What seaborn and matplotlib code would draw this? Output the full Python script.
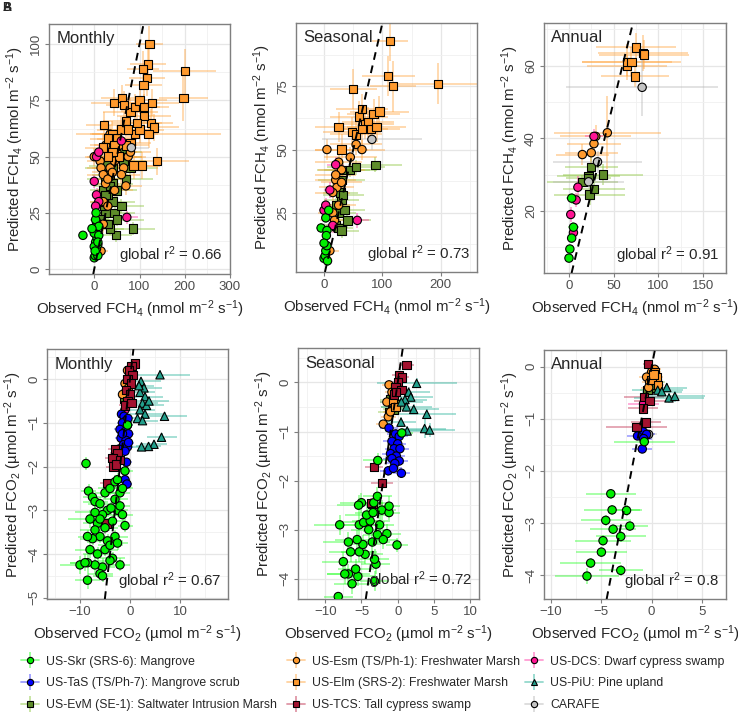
import numpy as np
import pandas as pd
import matplotlib
matplotlib.use("Agg")
import matplotlib.pyplot as plt
import seaborn as sns
from matplotlib.lines import Line2D
from matplotlib.legend_handler import HandlerTuple
from matplotlib.ticker import AutoMinorLocator

# ---- sites: label, fill colour, marker ----
site_labels = {
    "Skr": "US-Skr (SRS-6): Mangrove",
    "TaS": "US-TaS (TS/Ph-7): Mangrove scrub",
    "EvM": "US-EvM (SE-1): Saltwater Intrusion Marsh",
    "Esm": "US-Esm (TS/Ph-1): Freshwater Marsh",
    "Elm": "US-Elm (SRS-2): Freshwater Marsh",
    "TCS": "US-TCS: Tall cypress swamp",
    "DCS": "US-DCS: Dwarf cypress swamp",
    "PiU": "US-PiU: Pine upland",
    "CARAFE": "CARAFE",
}
site_colors = {"Skr": "#00F000", "TaS": "#0000FF", "EvM": "#5E8C2A", "Esm": "#FF9A2E",
               "Elm": "#FF9A2E", "TCS": "#A3122F", "DCS": "#FF1493", "PiU": "#22A08C",
               "CARAFE": "#C4C4C4"}
bar_colors = {"Skr": "#2CFF2C", "TaS": "#3A3AFF", "EvM": "#8CC63F", "Esm": "#FFA540",
              "Elm": "#FFA540", "TCS": "#C0304F", "DCS": "#FF3CA8", "PiU": "#2BB39B",
              "CARAFE": "#B8B8B8"}
site_markers = {"Skr": "o", "TaS": "o", "EvM": "s", "Esm": "o", "Elm": "s",
                "TCS": "s", "DCS": "o", "PiU": "^", "CARAFE": "o"}
draw_order = ["EvM", "Esm", "Elm", "CARAFE", "DCS", "TaS", "TCS", "PiU", "Skr"]

# ---- data: (observed, predicted, x error, y error) ----
ch4_monthly = {
    "Skr": [(-25, 15, 6, 2), (0, 5, 5, 2), (2, 6, 6, 2), (5, 9, 8, 2), (8, 6, 6, 2), (3, 12, 5, 2),
            (6, 14, 10, 2), (0, 16, 6, 2), (5, 19, 8, 2), (3, 22, 5, 2), (10, 19, 8, 2), (8, 11, 6, 2),
            (-5, 18, 7, 2), (0, 10, 5, 2), (10, 15, 8, 2), (4, 25, 6, 2), (2, 8, 6, 2), (8, 12, 10, 2)],
    "DCS": [(0, 39, 8, 3), (5, 33, 8, 3), (10, 30, 10, 3), (3, 28, 8, 3), (72, 23, 25, 3),
            (5, 50, 10, 3), (10, 52, 10, 3), (60, 57, 20, 3), (5, 21, 8, 3)],
    "EvM": [(20, 20, 25, 3), (25, 25, 30, 3), (30, 30, 20, 3), (20, 35, 30, 3), (25, 40, 40, 3),
            (30, 45, 50, 3), (35, 42, 40, 3), (40, 38, 45, 3), (40, 30, 50, 3), (45, 25, 45, 3),
            (48, 15, 35, 3), (50, 22, 60, 3), (60, 28, 50, 3), (70, 40, 60, 3), (80, 45, 60, 3),
            (85, 18, 50, 3), (15, 22, 20, 3), (22, 28, 25, 3), (30, 33, 30, 3), (35, 37, 35, 3),
            (28, 46, 40, 3), (55, 50, 50, 3), (45, 50, 40, 3), (35, 18, 30, 3), (18, 30, 20, 3),
            (30, 20, 30, 3), (65, 48, 50, 3), (50, 35, 45, 3), (40, 45, 40, 3), (60, 52, 45, 3),
            (25, 33, 30, 3)],
    "Esm": [(0, 50, 20, 4), (13, 48, 30, 4), (15, 45, 30, 4), (20, 42, 35, 4), (25, 38, 30, 4),
            (30, 40, 40, 4), (35, 45, 40, 4), (40, 43, 45, 4), (45, 48, 40, 4), (50, 52, 45, 4),
            (55, 55, 40, 4), (60, 50, 45, 4), (65, 45, 40, 4), (70, 37, 35, 4), (75, 50, 40, 4),
            (80, 52, 45, 4), (20, 30, 30, 4), (30, 28, 35, 4), (15, 8, 15, 3), (25, 55, 35, 4),
            (35, 60, 40, 4), (60, 42, 40, 4), (45, 35, 40, 4), (20, 20, 25, 4)],
    "Elm": [(21, 64, 40, 6), (40, 60, 50, 6), (50, 58, 45, 6), (60, 62, 55, 6), (70, 66, 50, 6),
            (80, 70, 60, 6), (90, 72, 55, 6), (100, 75, 60, 6), (110, 72, 55, 6), (128, 74, 60, 6),
            (125, 65, 50, 6), (132, 63, 55, 6), (61, 76, 45, 6), (66, 73, 40, 6), (90, 60, 50, 6),
            (100, 62, 55, 6), (110, 68, 60, 6), (122, 100, 30, 8), (119, 91, 40, 8), (108, 89, 35, 8),
            (116, 85, 40, 8), (109, 82, 40, 8), (200, 88, 70, 10), (197, 76, 55, 10), (139, 48, 70, 6),
            (106, 46, 40, 6), (87, 46, 50, 6), (80, 56, 45, 6), (43, 74, 50, 6), (30, 58, 40, 6),
            (45, 55, 45, 6), (70, 55, 50, 6), (95, 65, 55, 6), (75, 62, 50, 6), (55, 50, 40, 6),
            (40, 52, 40, 6), (20, 54, 40, 6), (30, 50, 45, 6), (120, 60, 160, 6)],
    "CARAFE": [(82, 54, 40, 4)],
}
ch4_seasonal = {
    "Skr": [(0, 7, 5, 2), (2, 8, 5, 2), (3, 10, 6, 2), (5, 12, 6, 2), (-5, 19, 8, 2), (5, 18, 6, 2),
            (4, 16, 6, 2), (3, 23, 6, 2), (8, 26, 8, 2), (0, 13, 5, 2), (6, 6, 5, 2)],
    "DCS": [(0, 26, 8, 3), (3, 28, 8, 3), (10, 34, 10, 3), (57, 22, 20, 3), (20, 44, 15, 3), (15, 20, 10, 3)],
    "EvM": [(20, 20, 25, 3), (25, 25, 30, 3), (30, 30, 30, 3), (35, 26, 35, 3), (28, 33, 30, 3),
            (33, 32, 35, 3), (30, 38, 40, 3), (33, 42, 45, 3), (40, 22, 40, 3), (45, 42, 45, 3),
            (55, 43, 50, 3), (88, 44, 45, 3), (20, 28, 25, 3), (25, 19, 25, 3), (30, 18, 30, 3)],
    "Esm": [(5, 50, 20, 4), (25, 45, 40, 4), (30, 42, 40, 4), (45, 47, 45, 4), (55, 52, 45, 4),
            (65, 50, 40, 4), (20, 38, 35, 4), (22, 35, 30, 4), (15, 33, 30, 4), (25, 28, 30, 4),
            (20, 40, 35, 4), (10, 10, 15, 3), (30, 37, 35, 4), (15, 25, 25, 4), (18, 22, 25, 4)],
    "Elm": [(25, 59, 40, 6), (30, 50, 45, 6), (48, 57, 50, 6), (55, 56, 45, 6), (60, 63, 50, 6),
            (65, 66, 45, 6), (70, 60, 50, 6), (75, 61, 45, 6), (80, 58, 50, 6), (85, 64, 45, 6),
            (90, 59, 50, 6), (95, 65, 50, 6), (50, 74, 40, 8), (110, 79, 45, 8), (118, 75, 40, 10),
            (195, 76, 75, 8), (113, 93, 30, 8), (65, 58, 45, 6)],
    "CARAFE": [(82, 54, 85, 4)],
}
ch4_annual = {
    "Skr": [(0, 7, 4, 1), (1, 9.5, 4, 1), (3, 12.5, 5, 1), (5, 15.5, 6, 1.5), (3, 23.5, 6, 1.5)],
    "DCS": [(2, 19, 4, 2), (5, 14, 4, 2), (8, 23, 6, 2), (10, 26.5, 6, 3), (28, 40.5, 10, 2)],
    "EvM": [(15, 28, 40, 2), (22, 29.5, 35, 2), (22, 29, 25, 2), (25, 32, 30, 3), (23, 24.5, 40, 3),
            (28, 26, 35, 3), (38, 30, 45, 3)],
    "Esm": [(15, 35.5, 30, 3), (25, 36, 30, 3), (28, 38.5, 30, 3), (30, 40.5, 40, 3), (43, 41.5, 60, 10)],
    "Elm": [(65, 60, 45, 3), (65, 61, 50, 5), (70, 61, 55, 4), (75, 65, 45, 4), (74, 57, 38, 3),
            (83, 63.5, 50, 5), (84, 63, 50, 4)],
    "CARAFE": [(82, 54, 85, 8), (32, 33.5, 50, 3), (22, 28, 40, 2)],
}
co2_monthly = {
    "Skr": [(-8.8, -1.93, 1.0, 0.15), (-8.3, -2.56, 1.5, 0.15), (-7.5, -2.7, 2.0, 0.15),
            (-7, -2.8, 2.5, 0.15), (-6, -2.85, 2.5, 0.15), (-5, -2.6, 2.0, 0.15), (-4, -2.5, 2.5, 0.15),
            (-3, -2.35, 2.0, 0.15), (-2.5, -2.3, 2.5, 0.15), (-2, -2.6, 2.0, 0.15), (-3, -2.75, 2.5, 0.15),
            (-4.5, -3.0, 3.0, 0.15), (-5.5, -3.1, 3.0, 0.15), (-7, -3.05, 4.0, 0.15), (-8, -3.2, 4.5, 0.2),
            (-6.5, -3.3, 3.0, 0.15), (-5, -3.4, 2.5, 0.15), (-3.5, -3.25, 2.5, 0.15), (-2.5, -3.0, 2.0, 0.15),
            (-1.5, -3.1, 2.0, 0.15), (-1, -3.35, 1.5, 0.15), (-3, -3.6, 2.5, 0.15), (-4.5, -3.7, 3.0, 0.15),
            (-6, -3.6, 3.0, 0.15), (-7.5, -3.65, 2.5, 0.15), (-8.5, -3.6, 2.0, 0.15), (-8, -3.9, 3.0, 0.2),
            (-6.5, -4.0, 3.0, 0.15), (-5, -3.9, 2.5, 0.15), (-4, -3.8, 2.5, 0.15), (-2.5, -3.75, 2.0, 0.15),
            (-3.5, -4.1, 2.5, 0.15), (-5.5, -4.3, 2.5, 0.2), (-7, -4.25, 3.0, 0.2), (-8.5, -4.2, 3.5, 0.2),
            (-10, -4.25, 4.0, 0.2), (-9, -4.2, 3.0, 0.2), (-6, -4.45, 2.5, 0.15), (-5.5, -4.5, 2.0, 0.15),
            (-2, -4.25, 2.0, 0.15), (-8.5, -4.6, 2.5, 0.2), (-4, -4.15, 2.5, 0.15), (-6, -3.2, 3.0, 0.15),
            (-7, -3.45, 3.0, 0.15), (-2, -2.9, 2.0, 0.15), (-3.8, -2.95, 2.5, 0.15), (-1.5, -2.5, 2.0, 0.15),
            (-0.5, -1.05, 1.0, 0.1), (-1, -2.1, 1.5, 0.15)],
    "TaS": [(-1.7, -0.8, 1.0, 0.1), (-1.2, -0.85, 1.0, 0.1), (-0.8, -0.95, 1.0, 0.1), (-1.5, -1.0, 1.2, 0.1),
            (-0.5, -1.05, 1.0, 0.1), (-2.0, -1.15, 1.2, 0.1), (-1.0, -1.2, 1.0, 0.1), (-0.3, -1.25, 1.0, 0.1),
            (-1.8, -1.35, 1.2, 0.1), (-0.8, -1.4, 1.0, 0.1), (-1.3, -1.5, 1.2, 0.1), (-0.5, -1.55, 1.0, 0.1),
            (-2.2, -1.6, 1.2, 0.1), (-1.0, -1.65, 1.0, 0.1), (-0.3, -1.45, 1.0, 0.1), (-0.7, -1.9, 1.0, 0.1),
            (-1.0, -2.3, 1.0, 0.1), (-0.6, -2.4, 1.0, 0.1), (-1.5, -1.25, 1.2, 0.1), (-0.4, -0.9, 1.0, 0.1)],
    "TCS": [(1.0, 0.36, 1.0, 0.08), (0.3, 0.3, 1.0, 0.08), (-0.2, 0.2, 1.0, 0.08), (0.5, 0.1, 1.0, 0.08),
            (-0.5, 0.0, 1.0, 0.08), (0.2, -0.1, 1.0, 0.08), (-0.8, -0.25, 1.0, 0.08), (0.0, -0.35, 1.0, 0.08),
            (-0.5, -0.5, 1.2, 0.08), (-1.0, -0.6, 1.2, 0.08), (0.3, -0.55, 1.0, 0.08), (-3.0, -1.6, 1.5, 0.1),
            (-2.5, -1.7, 1.5, 0.1), (-3.5, -1.8, 1.5, 0.1), (-2.0, -1.85, 1.5, 0.1), (-3.3, -2.0, 1.5, 0.1),
            (-4.5, -2.38, 1.5, 0.1), (-4.7, -3.3, 1.5, 0.1), (-2.8, -1.95, 1.5, 0.1)],
    "Esm": [(-0.5, 0.2, 0.8, 0.05), (-1.0, -0.1, 0.8, 0.05), (-1.5, -0.35, 0.8, 0.05), (-0.3, -0.2, 0.8, 0.05)],
    "EvM": [(-0.8, -0.3, 0.8, 0.05), (-1.2, -0.45, 0.8, 0.05)],
    "DCS": [(-1.0, -0.7, 0.8, 0.05)],
    "PiU": [(6, 0.1, 6.0, 0.1), (6.9, -0.85, 4.5, 0.1), (6.3, -1.33, 3.0, 0.1), (4.8, -1.49, 2.5, 0.1),
            (3.7, -1.54, 2.5, 0.1), (2.3, -1.55, 2.0, 0.1), (2.2, -0.05, 4.0, 0.1), (2.8, -0.2, 3.5, 0.1),
            (2.0, -0.3, 3.0, 0.1), (3.0, -0.4, 3.5, 0.1), (2.5, -0.55, 3.0, 0.1), (3.3, -0.6, 3.5, 0.1),
            (2.0, -0.7, 3.0, 0.1), (3.0, -0.8, 3.5, 0.1), (1.5, -0.9, 2.5, 0.1), (2.5, -0.95, 3.0, 0.1),
            (3.8, -0.5, 4.0, 0.1), (1.8, -0.15, 3.0, 0.1)],
}
co2_seasonal = {
    "Skr": [(-8.2, -4.36, 2.0, 0.1), (-6.3, -4.1, 2.5, 0.2), (-6.8, -3.9, 3.0, 0.2), (-7.3, -3.9, 2.5, 0.2),
            (-7.5, -3.65, 3.0, 0.2), (-5.5, -3.95, 2.5, 0.2), (-5.8, -3.8, 2.5, 0.2), (-3.2, -4.05, 2.0, 0.2),
            (-3.0, -3.7, 2.0, 0.2), (-3.2, -3.6, 2.0, 0.2), (-4.5, -3.5, 2.5, 0.2), (-5.3, -3.45, 2.5, 0.2),
            (-6.5, -3.45, 3.0, 0.2), (-4.8, -3.3, 2.5, 0.2), (-5.6, -3.2, 3.0, 0.2), (-6.8, -3.25, 3.5, 0.2),
            (-3.5, -3.25, 2.5, 0.2), (-2.8, -3.1, 2.0, 0.2), (-1.5, -3.08, 2.0, 0.2), (-2.0, -3.2, 2.0, 0.2),
            (-0.1, -3.31, 1.5, 0.15), (-8.0, -2.9, 3.5, 0.2), (-5.3, -2.9, 3.0, 0.2), (-4.7, -2.85, 3.0, 0.2),
            (-3.8, -2.82, 2.5, 0.2), (-2.5, -2.9, 2.0, 0.2), (-4.3, -2.7, 3.0, 0.2), (-3.4, -2.65, 2.5, 0.2),
            (-2.2, -2.6, 2.0, 0.2), (-1.2, -2.65, 1.5, 0.2), (-1.2, -2.52, 1.5, 0.2), (-5.0, -2.45, 3.0, 0.2),
            (-5.4, -2.5, 3.0, 0.2), (-3.3, -2.45, 2.5, 0.2), (-2.8, -2.32, 2.0, 0.2), (-2.75, -1.59, 2.0, 0.15),
            (0.55, -1.03, 1.5, 0.1), (-4.0, -3.0, 2.5, 0.2)],
    "TaS": [(-1.2, -0.93, 1.2, 0.1), (-0.3, -1.05, 1.2, 0.1), (0.2, -1.1, 1.2, 0.1), (-0.8, -1.2, 1.2, 0.1),
            (0.0, -1.25, 1.2, 0.1), (-0.5, -1.35, 1.2, 0.1), (0.3, -1.35, 1.2, 0.1), (-1.0, -1.45, 1.2, 0.1),
            (-0.2, -1.5, 1.2, 0.1), (-0.8, -1.55, 1.2, 0.1), (0.2, -1.6, 1.2, 0.1), (-0.4, -1.65, 1.2, 0.1),
            (-1.3, -1.8, 1.2, 0.1), (0.5, -1.85, 1.2, 0.1), (-0.6, -1.75, 1.2, 0.1)],
    "TCS": [(1.2, 0.35, 1.0, 0.05), (0.2, 0.15, 1.0, 0.05), (0.6, 0.1, 1.0, 0.05), (0.0, 0.0, 1.0, 0.05),
            (-0.3, -0.1, 1.0, 0.05), (0.5, -0.15, 1.0, 0.05), (-0.5, -0.25, 1.0, 0.05), (-0.2, -0.2, 1.0, 0.05),
            (-3.3, -1.72, 1.2, 0.1), (-2.2, -2.05, 1.5, 0.1), (-3.5, -2.48, 1.5, 0.1), (-4.2, -2.83, 1.5, 0.1),
            (-3.7, -2.45, 1.5, 0.1)],
    "Esm": [(-1.2, -0.05, 1.0, 0.05), (-0.8, -0.2, 1.0, 0.05), (-1.5, -0.4, 1.0, 0.05), (-0.5, -0.45, 1.0, 0.05),
            (-1.3, -0.7, 1.0, 0.05), (-1.0, -0.6, 1.0, 0.05), (-2.0, -0.85, 1.0, 0.05)],
    "Elm": [(-0.7, -0.35, 1.0, 0.05), (-0.3, -0.5, 1.0, 0.05)],
    "EvM": [(-1.0, -0.35, 1.5, 0.05), (-0.5, -0.4, 1.5, 0.05), (-0.8, -0.5, 1.5, 0.05), (-0.3, -0.45, 1.5, 0.05),
            (-1.2, -0.6, 1.5, 0.05), (-0.6, -0.55, 1.5, 0.05)],
    "PiU": [(2.6, -0.02, 5.5, 0.1), (1.5, -0.2, 3.0, 0.1), (1.8, -0.3, 3.0, 0.1), (1.0, -0.35, 3.0, 0.1),
            (0.5, -0.4, 3.0, 0.1), (1.2, -0.5, 3.5, 0.1), (2.2, -0.55, 3.5, 0.1), (4.0, -0.65, 4.0, 0.1),
            (3.7, -0.94, 3.0, 0.2), (4.4, -0.97, 3.5, 0.15), (1.3, -0.99, 3.0, 0.1), (0.45, -0.81, 2.0, 0.1)],
}
co2_annual = {
    "Skr": [(-4.05, -2.44, 2.5, 0.1), (-3.92, -2.75, 2.8, 0.1), (-2.49, -2.76, 1.5, 0.1), (-4.55, -2.95, 2.5, 0.1),
            (-2.16, -3.06, 1.8, 0.1), (-3.82, -3.12, 2.3, 0.1), (-3.06, -3.26, 2.5, 0.1), (-4.82, -3.34, 2.8, 0.1),
            (-4.98, -3.56, 2.5, 0.1), (-6.05, -3.77, 3.0, 0.1), (-3.06, -3.91, 2.2, 0.1), (-6.41, -4.02, 3.2, 0.15),
            (-0.73, -1.44, 3.0, 0.1)],
    "TaS": [(-1.07, -1.16, 0.8, 0.05), (-0.83, -1.25, 0.8, 0.05), (-1.4, -1.33, 1.0, 0.05), (-0.5, -1.3, 0.8, 0.05),
            (-0.8, -1.38, 0.8, 0.05), (-0.93, -1.58, 1.0, 0.05)],
    "TCS": [(-0.34, 0.05, 0.5, 0.03), (-0.77, -0.58, 2.0, 0.05), (-0.2, -0.66, 1.5, 0.05), (-0.83, -0.8, 1.5, 0.05),
            (-0.57, -1.07, 1.5, 0.05), (-1.5, -1.16, 3.0, 0.05)],
    "DCS": [(-0.8, -0.71, 1.5, 0.05)],
    "Esm": [(0.0, -0.1, 0.6, 0.05), (-0.5, -0.2, 0.8, 0.05), (-0.2, -0.3, 0.8, 0.05), (0.3, -0.05, 0.6, 0.05),
            (-0.3, -0.4, 0.8, 0.05)],
    "Elm": [(0.3, -0.1, 0.6, 0.05), (0.5, -0.2, 0.6, 0.05), (0.0, -0.25, 0.6, 0.05), (0.6, -0.35, 0.6, 0.05),
            (0.2, -0.15, 0.6, 0.05)],
    "EvM": [(0.5, -0.3, 0.8, 0.05), (0.1, -0.4, 0.8, 0.05), (-0.4, -0.45, 0.8, 0.05), (0.3, -0.35, 0.8, 0.05)],
    "PiU": [(1.5, -0.4, 2.0, 0.08), (0.6, -0.45, 2.5, 0.08), (1.72, -0.6, 3.5, 0.1), (2.3, -0.57, 3.0, 0.1),
            (1.0, -0.48, 2.0, 0.08)],
    "CARAFE": [(-0.3, -1.3, 0.8, 0.05)],
}

panels = [
    ("Monthly", ch4_monthly, "0.66", "ch4", (-100, 300), (-2.2, 109), [0, 100, 200, 300], [0, 25, 50, 75, 100]),
    ("Seasonal", ch4_seasonal, "0.73", "ch4", (-48, 262), (1.6, 100), [0, 100, 200], [25, 50, 75]),
    ("Annual", ch4_annual, "0.91", "ch4", (-28, 176), (2.9, 71.7), [0, 50, 100, 150], [20, 40, 60]),
    ("Monthly", co2_monthly, "0.67", "co2", (-16.6, 19.6), (-5.03, 0.69), [-10, 0, 10], [0, -1, -2, -3, -4, -5]),
    ("Seasonal", co2_seasonal, "0.72", "co2", (-13.75, 11.2), (-4.41, 0.70), [-10, -5, 0, 5, 10], [0, -1, -2, -3, -4]),
    ("Annual", co2_annual, "0.8", "co2", (-10.67, 7.37), (-4.46, 0.32), [-10, -5, 0, 5], [0, -1, -2, -3, -4]),
]
axes_pos = [
    (49, 24, 230, 274), (296, 23, 477, 272), (544, 23, 726, 273),
    (47, 349, 228, 599), (298, 348, 479, 599), (544, 350, 726, 599),
]

sns.set_style("whitegrid")
plt.rcParams["font.family"] = ["Liberation Sans", "DejaVu Sans"]
plt.rcParams["mathtext.fontset"] = "custom"
plt.rcParams["mathtext.rm"] = "Liberation Sans"
plt.rcParams["mathtext.it"] = "Liberation Sans"

W, H = 738, 718
fig = plt.figure(figsize=(W / 100, H / 100), dpi=100)

for (title, data, r2, gas, xlim, ylim, xt, yt), (x0, y0, x1, y1) in zip(panels, axes_pos):
    ax = fig.add_axes([x0 / W, 1 - y1 / H, (x1 - x0) / W, (y1 - y0) / H])
    rows = []
    for s in draw_order:
        for (ox, py, xe, ye) in data.get(s, []):
            rows.append({"site": s, "obs": ox, "pred": py, "xerr": xe, "yerr": ye})
    df = pd.DataFrame(rows)

    for s in draw_order:
        d = df[df.site == s]
        if len(d) == 0:
            continue
        ax.errorbar(d.obs, d.pred, xerr=d.xerr, yerr=d.yerr, fmt="none",
                    ecolor=bar_colors[s], alpha=0.45, elinewidth=1.3, capsize=0, zorder=2)

    sns.scatterplot(data=df, x="obs", y="pred", hue="site", style="site",
                    palette=site_colors, markers=site_markers, s=36,
                    edgecolor="black", linewidth=0.8, legend=False, ax=ax, zorder=3)

    ax.axline((0, 0), slope=1, color="black", ls=(0, (4, 3)), lw=1.4, zorder=4)

    ax.set_xlim(*xlim)
    ax.set_ylim(*ylim)
    ax.set_xticks(xt)
    ax.set_yticks(yt)
    ax.xaxis.set_minor_locator(AutoMinorLocator(2))
    ax.yaxis.set_minor_locator(AutoMinorLocator(2))
    ax.grid(which="major", color="#E6E6E6", lw=0.9)
    ax.grid(which="minor", color="#F0F0F0", lw=0.6)
    ax.set_axisbelow(True)
    for sp in ax.spines.values():
        sp.set_color("#7F7F7F")
        sp.set_linewidth(1.0)
    ax.tick_params(which="major", direction="out", length=3, width=0.8, color="#7F7F7F",
                   labelcolor="#4D4D4D", labelsize=9.5, bottom=True, left=True, pad=2)
    ax.tick_params(which="minor", length=0)
    for lab in ax.get_yticklabels():
        lab.set_rotation(90)
        lab.set_va("center")

    if gas == "ch4":
        ax.set_ylabel(r"Predicted FCH$_4$ (nmol m$^{-2}$ s$^{-1}$)", fontsize=10.8, labelpad=3)
        ax.set_xlabel(r"Observed FCH$_4$ (nmol m$^{-2}$ s$^{-1}$)", fontsize=10.8, labelpad=4)
    else:
        ax.set_ylabel("Predicted FCO$_2$ (\u00b5mol m$^{-2}$ s$^{-1}$)", fontsize=10.8, labelpad=3)
        ax.set_xlabel("Observed FCO$_2$ (\u00b5mol m$^{-2}$ s$^{-1}$)", fontsize=10.8, labelpad=4)

    ax.text(0.04, 0.97, title, transform=ax.transAxes, ha="left", va="top", fontsize=12, zorder=5)
    ax.text(0.96, 0.03, r"global r$^2$ = " + r2, transform=ax.transAxes, ha="right", va="bottom",
            fontsize=10.8, zorder=5)

# panel letters
fig.text(0.003, 0.997, "A", fontsize=9, fontweight="bold", ha="left", va="top")
fig.text(0.003, 0.997, "B", fontsize=9, fontweight="bold", ha="left", va="top")

# legend: three columns placed where the reference has them
legend_cols = [["Skr", "TaS", "EvM"], ["Esm", "Elm", "TCS"], ["DCS", "PiU", "CARAFE"]]
legend_x = [21, 287, 525]
for col, lx in zip(legend_cols, legend_x):
    handles = []
    for s in col:
        c = bar_colors[s]
        hline = Line2D([], [], color=c, alpha=0.5, lw=1.3)
        vline = Line2D([], [], marker="|", markersize=12, color=c, alpha=0.5, ls="none",
                       markeredgewidth=1.3)
        pt = Line2D([], [], marker=site_markers[s], markerfacecolor=site_colors[s],
                    markeredgecolor="black", markersize=4.5, ls="none", markeredgewidth=0.8)
        handles.append((hline, vline, pt))
    fig.legend(handles, [site_labels[s] for s in col], loc="upper left",
               bbox_to_anchor=(lx / W, 0.087), frameon=False, fontsize=8.8,
               handler_map={tuple: HandlerTuple(ndivide=1, pad=0)},
               handlelength=1.5, handletextpad=0.55, labelspacing=0.8,
               borderaxespad=0, borderpad=0)

fig.savefig("out.png", dpi=100)
